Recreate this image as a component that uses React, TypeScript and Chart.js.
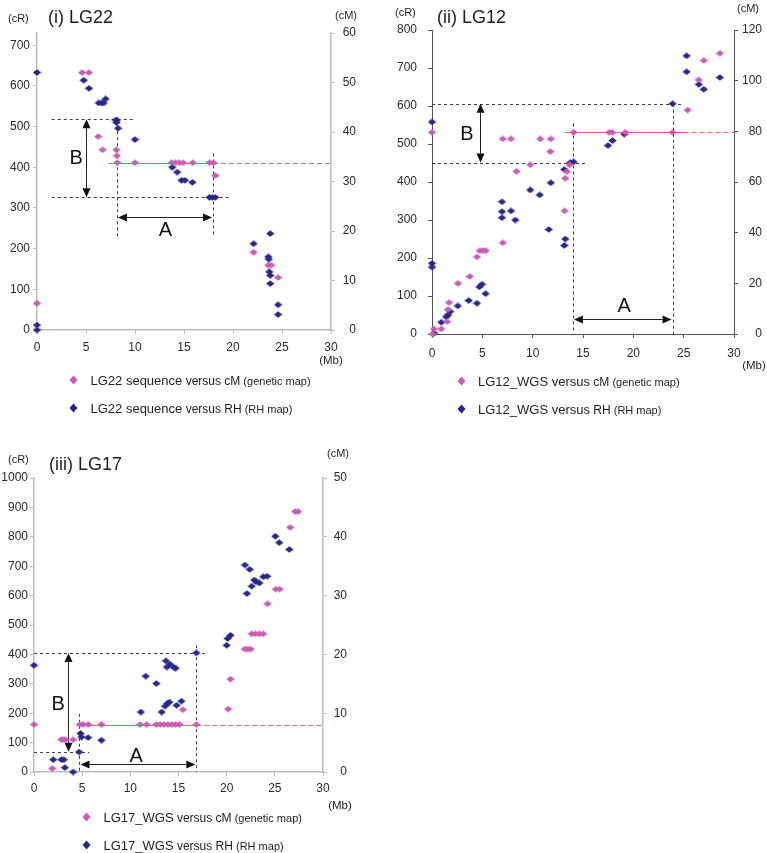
import React, { useEffect, useRef } from 'react';
import { Chart, registerables } from 'chart.js';

Chart.register(...registerables);

const PINK = '#C95DB6';
const NAVY = '#28268C';
const RED = '#EF5F66';
const FONT = '"Liberation Sans", Arial, Helvetica, sans-serif';

const mbTicks = [0, 5, 10, 15, 20, 25, 30];

// ---------- (i) LG22 ----------
const lg22CRTicks = [0, 100, 200, 300, 400, 500, 600, 700];
const lg22CMTicks = [0, 10, 20, 30, 40, 50, 60];
const lg22RhMb = [0, 0, 0, 4.77, 5.3, 6.3, 6.6, 6.8, 7.0, 8.05, 8.15, 8.1, 8.27, 10.0, 13.8, 14.3, 14.75, 15.1, 15.86, 17.6, 17.9, 18.2, 22.1, 23.8, 23.6, 23.65, 23.7, 23.8, 23.8, 24.6, 24.6];
const lg22RhCR = [633, 12, 0, 614, 594, 558, 558, 558, 568, 516, 516, 510, 496, 468, 400, 388, 368, 368, 363, 326, 326, 326, 212, 237, 180, 174, 143, 134, 114, 62, 38];
const lg22CmMb = [0, 4.6, 5.3, 6.25, 6.7, 8.1, 8.15, 8.2, 10.0, 13.75, 14.1, 14.5, 14.9, 15.9, 17.6, 18.0, 18.2, 22.1, 23.6, 23.9, 24.6];
const lg22CmCM = [5.4, 52, 52, 39.1, 36.4, 36.4, 35.2, 33.8, 33.8, 33.8, 33.8, 33.8, 33.8, 33.8, 33.8, 33.8, 31.2, 15.7, 13.1, 13.1, 10.6];
const lg22GuideH = [[1.5, 518, 10.0, 518], [1.5, 326, 19.7, 326]];
const lg22GuideV = [[8.16, 518, 8.16, 229], [17.96, 434, 17.96, 229]];
const lg22Red = [33.8, 7.3, 17.96]; // cM, solid from, solid to
const lg22ArrowB = [4.97, 518, 326];
const lg22ArrowA = [277, 8.16, 17.96];
const lg22LabelB = [4.0, 422];
const lg22LabelA = [13.1, 245];

// ---------- (ii) LG12 ----------
const lg12CRTicks = [0, 100, 200, 300, 400, 500, 600, 700, 800];
const lg12CMTicks = [0, 20, 40, 60, 80, 100, 120];
const lg12RhMb = [0, 0, 0, 0.2, 0.92, 1.4, 1.59, 1.8, 2.56, 3.65, 4.47, 4.7, 4.97, 5.32, 6.95, 6.95, 6.95, 7.85, 8.27, 9.76, 10.7, 11.8, 11.6, 13.24, 13.14, 13.14, 13.73, 14.06, 17.48, 17.93, 19.1, 23.9, 25.3, 25.3, 26.5, 27.0, 28.6];
const lg12RhCR = [558, 186, 176, 2, 31, 45, 50, 59, 74, 88, 81, 124, 131, 106, 348, 322, 306, 324, 300, 379, 366, 398, 275, 250, 233, 433, 451, 453, 496, 509, 526, 606, 732, 690, 657, 644, 675];
const lg12CmMb = [0, 0.05, 0.2, 0.92, 1.5, 1.59, 1.7, 2.58, 3.75, 4.47, 4.75, 5.05, 5.35, 7.03, 7.03, 7.84, 8.4, 9.76, 10.75, 11.8, 11.75, 13.17, 13.24, 13.4, 13.66, 14.06, 17.6, 17.9, 19.2, 23.9, 25.4, 26.5, 27.0, 28.6];
const lg12CmCM = [79.6, 0, 2, 2, 4.9, 9.7, 12.4, 20, 22.7, 30.4, 32.9, 32.9, 32.9, 36, 77, 77, 64.2, 66.8, 77, 77, 72, 48.6, 61.5, 64.1, 66.8, 79.6, 79.6, 79.6, 79.6, 79.6, 88.4, 100.3, 108, 110.8];
const lg12GuideH = [[0, 606, 25.0, 606], [0, 451, 15.2, 451]];
const lg12GuideV = [[14.0, 554, 14.0, 0], [23.9, 606, 23.9, 0]];
const lg12Red = [79.6, 13.2, 25.0];
const lg12ArrowB = [4.73, 606, 451];
const lg12ArrowA = [39.5, 14.0, 23.9];
const lg12LabelB = [3.47, 524];
const lg12LabelA = [19.1, 72];

// ---------- (iii) LG17 ----------
const lg17CRTicks = [0, 100, 200, 300, 400, 500, 600, 700, 800, 900, 1000];
const lg17CMTicks = [0, 10, 20, 30, 40, 50];
const lg17RhMb = [0, 2.0, 2.85, 3.1, 3.2, 4.06, 4.68, 4.83, 4.93, 5.62, 7.0, 11.1, 11.6, 12.7, 13.26, 13.6, 13.84, 14.05, 14.8, 15.3, 13.7, 14.1, 14.5, 13.8, 14.7, 16.85, 20.0, 20.1, 20.4, 21.9, 22.4, 22.1, 22.6, 22.86, 23.07, 23.4, 23.8, 24.2, 25.05, 25.46, 26.5];
const lg17RhCR = [363, 42, 42, 42, 15, 0, 68, 131, 119, 117, 108, 204, 326, 301, 204, 224, 233, 238, 227, 241, 378, 367, 357, 357, 353, 405, 431, 454, 465, 704, 689, 607, 632, 653, 647, 643, 664, 666, 802, 780, 757];
const lg17CmMb = [0, 1.9, 2.85, 3.1, 3.3, 4.06, 4.75, 5.1, 5.62, 7.0, 11.0, 11.7, 12.7, 13.1, 13.5, 13.9, 14.3, 14.7, 15.1, 15.45, 16.85, 20.15, 20.4, 21.9, 22.2, 22.5, 22.6, 23.0, 23.4, 23.8, 24.25, 25.1, 25.5, 26.6, 27.1, 27.4];
const lg17CmCM = [8.07, 0.6, 5.5, 5.5, 5.5, 5.5, 8.07, 8.07, 8.07, 8.07, 8.07, 8.07, 8.07, 8.07, 8.07, 8.07, 8.07, 8.07, 8.07, 10.6, 8.07, 10.7, 15.8, 20.9, 20.9, 20.9, 23.5, 23.5, 23.5, 23.5, 28.6, 31.1, 31.1, 41.6, 44.3, 44.3];
const lg17GuideH = [[0, 405, 17.7, 405], [0, 69, 5.72, 69]];
const lg17GuideV = [[4.72, 198, 4.72, 0], [16.85, 431, 16.85, 0]];
const lg17Red = [8.07, 4.72, 16.85];
const lg17ArrowB = [3.54, 405, 69];
const lg17ArrowA = [27, 4.72, 16.85];
const lg17LabelB = [2.5, 228];
const lg17LabelA = [10.6, 52];

type Guides = {
  hLines: number[][]; vLines: number[][]; red: number[];
  arrowB: number[]; arrowA: number[]; labelB: number[]; labelA: number[];
};

type Spec = {
  rhMb: number[]; rhCR: number[]; cmMb: number[]; cmCM: number[];
  yTicks: number[]; y2Ticks: number[];
  yMax: number; y2Max: number;
  axisColor: string; axisWidth: number;
  width: number; height: number;
  pad: { left: number; top: number; right: number; bottom: number };
  yW: number; y2W: number; xH: number; yLabelPad: number; xLabelPad: number;
  guides: Guides;
};

function diamond(color: string) {
  const c = document.createElement('canvas');
  c.width = 9; c.height = 7;
  const g = c.getContext('2d')!;
  g.fillStyle = color;
  g.beginPath();
  g.moveTo(4.5, 0.3); g.lineTo(8.7, 3.5); g.lineTo(4.5, 6.7); g.lineTo(0.3, 3.5);
  g.closePath(); g.fill();
  return c;
}

function makeGuides(g: Guides) {
  return {
    id: 'guides',
    beforeDatasetsDraw(chart: any) {
      const ctx = chart.ctx as CanvasRenderingContext2D;
      const sx = chart.scales.x, sy = chart.scales.y, sy2 = chart.scales.y2;
      const X = (v: number) => sx.getPixelForValue(v);
      const Y = (v: number) => sy.getPixelForValue(v);
      const seg = (a: number, b: number, c: number, d: number) => {
        ctx.beginPath(); ctx.moveTo(a, b); ctx.lineTo(c, d); ctx.stroke();
      };
      const tri = (a: number, b: number, c: number, d: number, e: number, f: number) => {
        ctx.beginPath(); ctx.moveTo(a, b); ctx.lineTo(c, d); ctx.lineTo(e, f); ctx.closePath(); ctx.fill();
      };
      ctx.save();
      ctx.strokeStyle = '#3c3c3c'; ctx.lineWidth = 1; ctx.setLineDash([3, 3]);
      for (const l of g.hLines) {
        const yy = Math.round(Y(l[1])) + 0.5;
        seg(X(l[0]), yy, X(l[2]), yy);
      }
      for (const l of g.vLines) {
        const xx = Math.round(X(l[0])) + 0.5;
        seg(xx, Y(l[1]), xx, Y(l[3]));
      }
      const ry = Math.round(sy2.getPixelForValue(g.red[0])) + 0.5;
      ctx.strokeStyle = RED; ctx.lineWidth = 1.2; ctx.setLineDash([]);
      seg(X(g.red[1]), ry, X(g.red[2]), ry);
      ctx.setLineDash([5, 3]);
      seg(X(g.red[2]), ry, X(sx.max), ry);
      ctx.setLineDash([]);
      ctx.strokeStyle = '#222'; ctx.fillStyle = '#111'; ctx.lineWidth = 1;
      const hl = 9, hw = 4;
      const bx = Math.round(X(g.arrowB[0])) + 0.5, bt = Y(g.arrowB[1]), bb = Y(g.arrowB[2]);
      seg(bx, bt + hl, bx, bb - hl);
      tri(bx, bt, bx - hw, bt + hl, bx + hw, bt + hl);
      tri(bx, bb, bx - hw, bb - hl, bx + hw, bb - hl);
      const ay = Math.round(Y(g.arrowA[0])) + 0.5, al = X(g.arrowA[1]) + 1, ar = X(g.arrowA[2]) - 1;
      seg(al + hl, ay, ar - hl, ay);
      tri(al, ay, al + hl, ay - hw, al + hl, ay + hw);
      tri(ar, ay, ar - hl, ay - hw, ar - hl, ay + hw);
      ctx.font = `20px ${FONT}`; ctx.textAlign = 'center'; ctx.textBaseline = 'middle';
      ctx.fillStyle = '#111';
      ctx.fillText('B', X(g.labelB[0]), Y(g.labelB[1]));
      ctx.fillText('A', X(g.labelA[0]), Y(g.labelA[1]));
      ctx.restore();
    },
  };
}

function PanelChart({ spec, left, top }: { spec: Spec; left: number; top: number }) {
  const ref = useRef<HTMLCanvasElement>(null);
  useEffect(() => {
    const pinkD = diamond(PINK);
    const navyD = diamond(NAVY);
    const tickFont = { family: FONT, size: 12 };
    const grid = { drawOnChartArea: false, drawTicks: true, tickLength: 4, color: spec.axisColor };
    const border = { display: true, color: spec.axisColor, width: spec.axisWidth };
    const plain = (v: any) => String(v);
    const chart = new Chart(ref.current!, {
      type: 'scatter',
      data: {
        datasets: [
          {
            label: 'cM', yAxisID: 'y2', clip: false as any,
            data: spec.cmMb.map((v, i) => ({ x: v, y: spec.cmCM[i] })),
            pointStyle: pinkD as any, pointRadius: 4, backgroundColor: PINK, borderColor: PINK,
          },
          {
            label: 'RH', yAxisID: 'y', clip: false as any,
            data: spec.rhMb.map((v, i) => ({ x: v, y: spec.rhCR[i] })),
            pointStyle: navyD as any, pointRadius: 4, backgroundColor: NAVY, borderColor: NAVY,
          },
        ],
      },
      options: {
        responsive: false, animation: false, devicePixelRatio: 1,
        layout: { padding: spec.pad },
        plugins: { legend: { display: false }, tooltip: { enabled: false } },
        scales: {
          x: {
            type: 'linear', position: 'bottom', min: 0, max: 30,
            afterBuildTicks: (s: any) => { s.ticks = mbTicks.map((v) => ({ value: v })); },
            afterFit: (s: any) => { s.height = spec.xH; },
            ticks: { font: tickFont, color: '#2a2a2a', padding: spec.xLabelPad, maxRotation: 0, autoSkip: false, callback: plain },
            grid, border,
          },
          y: {
            type: 'linear', position: 'left', min: 0, max: spec.yMax,
            afterBuildTicks: (s: any) => { s.ticks = spec.yTicks.map((v) => ({ value: v })); },
            afterFit: (s: any) => { s.width = spec.yW; },
            ticks: { font: tickFont, color: '#2a2a2a', padding: spec.yLabelPad, autoSkip: false, callback: plain },
            grid, border,
          },
          y2: {
            type: 'linear', position: 'right', min: 0, max: spec.y2Max,
            afterBuildTicks: (s: any) => { s.ticks = spec.y2Ticks.map((v) => ({ value: v })); },
            afterFit: (s: any) => { s.width = spec.y2W; },
            ticks: { font: tickFont, color: '#2a2a2a', crossAlign: 'far', autoSkip: false, callback: plain },
            grid, border,
          },
        },
      } as any,
      plugins: [makeGuides(spec.guides)],
    });
    return () => chart.destroy();
  }, [spec]);
  return (
    <canvas ref={ref} width={spec.width} height={spec.height}
      style={{ position: 'absolute', left, top, width: spec.width, height: spec.height }} />
  );
}

function T({ x, y, size, children, center }: { x: number; y: number; size: number; children: any; center?: boolean }) {
  return (
    <div style={{
      position: 'absolute', left: x, top: y, fontFamily: FONT, fontSize: size, lineHeight: 1,
      color: '#1e1e1e', whiteSpace: 'nowrap',
      transform: center ? 'translate(-50%, -50%)' : 'translateY(-50%)',
    }}>{children}</div>
  );
}

function Diamond({ x, y, color }: { x: number; y: number; color: string }) {
  return (
    <svg width={9} height={10} style={{ position: 'absolute', left: x - 4.5, top: y - 5 }}>
      <polygon points="4.5,0.5 8.5,5 4.5,9.5 0.5,5" fill={color} />
    </svg>
  );
}

function LegendRow({ x, y, color, main, mid, tail }: { x: number; y: number; color: string; main: string; mid: string; tail: string }) {
  return (
    <>
      <Diamond x={x} y={y} color={color} />
      <T x={x + 17} y={y} size={13}>
        {main}<span style={{ fontSize: 12 }}>{mid}</span><span style={{ fontSize: 11 }}>{tail}</span>
      </T>
    </>
  );
}

const specI: Spec = {
  rhMb: lg22RhMb, rhCR: lg22RhCR, cmMb: lg22CmMb, cmCM: lg22CmCM,
  yTicks: lg22CRTicks, y2Ticks: lg22CMTicks, yMax: 730, y2Max: 60,
  axisColor: '#bdbdbd', axisWidth: 1.5,
  width: 370, height: 420,
  pad: { left: 0, top: 33, right: 14, bottom: 66 },
  yW: 37, y2W: 25, xH: 24, yLabelPad: 3, xLabelPad: 6,
  guides: { hLines: lg22GuideH, vLines: lg22GuideV, red: lg22Red, arrowB: lg22ArrowB, arrowA: lg22ArrowA, labelB: lg22LabelB, labelA: lg22LabelA },
};

const specII: Spec = {
  rhMb: lg12RhMb, rhCR: lg12RhCR, cmMb: lg12CmMb, cmCM: lg12CmCM,
  yTicks: lg12CRTicks, y2Ticks: lg12CMTicks, yMax: 800, y2Max: 120,
  axisColor: '#555555', axisWidth: 1,
  width: 397, height: 420,
  pad: { left: 0, top: 30, right: 5, bottom: 62 },
  yW: 62, y2W: 28, xH: 24, yLabelPad: 11, xLabelPad: 8,
  guides: { hLines: lg12GuideH, vLines: lg12GuideV, red: lg12Red, arrowB: lg12ArrowB, arrowA: lg12ArrowA, labelB: lg12LabelB, labelA: lg12LabelA },
};

const specIII: Spec = {
  rhMb: lg17RhMb, rhCR: lg17RhCR, cmMb: lg17CmMb, cmCM: lg17CmCM,
  yTicks: lg17CRTicks, y2Ticks: lg17CMTicks, yMax: 1000, y2Max: 50,
  axisColor: '#bdbdbd', axisWidth: 1.5,
  width: 370, height: 433,
  pad: { left: 0, top: 58, right: 23, bottom: 59 },
  yW: 34, y2W: 24, xH: 22, yLabelPad: 2, xLabelPad: 5,
  guides: { hLines: lg17GuideH, vLines: lg17GuideV, red: lg17Red, arrowB: lg17ArrowB, arrowA: lg17ArrowA, labelB: lg17LabelB, labelA: lg17LabelA },
};

export default function App() {
  return (
    <div style={{ position: 'absolute', left: 0, top: 0, width: 767, height: 853, background: '#fff', overflow: 'hidden' }}>
      <PanelChart spec={specI} left={0} top={0} />
      <PanelChart spec={specII} left={370} top={0} />
      <PanelChart spec={specIII} left={0} top={420} />

      <T x={8} y={18} size={11}>(cR)</T>
      <T x={48} y={17} size={18}>(i) LG22</T>
      <T x={335} y={15} size={11}>(cM)</T>
      <T x={331} y={361} size={11.5} center>(Mb)</T>
      <LegendRow x={73.5} y={380} color={PINK} main="LG22 sequence" mid=" versus cM" tail=" (genetic map)" />
      <LegendRow x={73.5} y={408} color={NAVY} main="LG22 sequence" mid=" versus RH" tail=" (RH map)" />

      <T x={395} y={12} size={11}>(cR)</T>
      <T x={437} y={16.5} size={18}>(ii) LG12</T>
      <T x={737} y={8} size={11}>(cM)</T>
      <T x={754} y={366} size={11.5} center>(Mb)</T>
      <LegendRow x={461} y={381} color={PINK} main="LG12_WGS versus" mid=" cM" tail=" (genetic map)" />
      <LegendRow x={461} y={409} color={NAVY} main="LG12_WGS versus" mid=" RH" tail=" (RH map)" />

      <T x={8} y={459} size={11}>(cR)</T>
      <T x={49} y={463.5} size={18}>(iii) LG17</T>
      <T x={327} y={453} size={11}>(cM)</T>
      <T x={340} y={806} size={11.5} center>(Mb)</T>
      <LegendRow x={86.5} y={817} color={PINK} main="LG17_WGS" mid=" versus cM" tail=" (genetic map)" />
      <LegendRow x={86.5} y={845} color={NAVY} main="LG17_WGS" mid=" versus RH" tail=" (RH map)" />
    </div>
  );
}
